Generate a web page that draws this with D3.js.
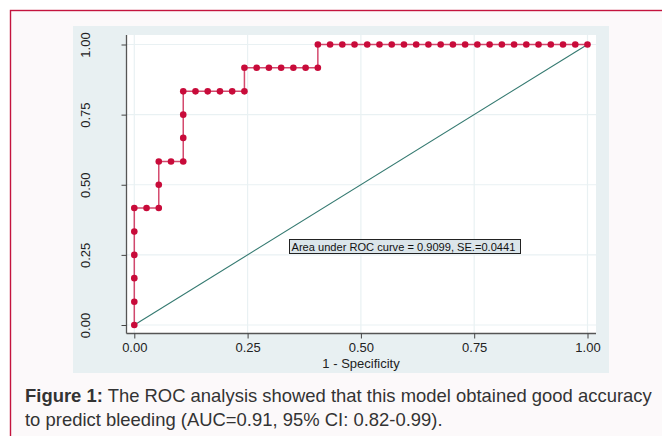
<!DOCTYPE html>
<html>
<head>
<meta charset="utf-8">
<script src="https://cdn.jsdelivr.net/npm/d3@7/dist/d3.min.js"></script>
<style>
body { margin: 0; background: #fff; }
svg { display: block; font-family: "Liberation Sans", Arial, sans-serif; }
</style>
</head>
<body>
<script>
// ROC points (1 - specificity, sensitivity)
const oneMinusSpec = [0, 0, 0, 0, 0, 0, 0.027, 0.054, 0.054, 0.054, 0.081, 0.108, 0.108, 0.108, 0.108,
  0.135, 0.162, 0.189, 0.216, 0.243, 0.243, 0.270, 0.297, 0.324, 0.351, 0.378, 0.405, 0.405,
  0.432, 0.459, 0.486, 0.514, 0.541, 0.568, 0.595, 0.622, 0.649, 0.676, 0.703, 0.730, 0.757,
  0.784, 0.811, 0.838, 0.865, 0.892, 0.919, 0.946, 0.973, 1];
const sensitivity = [0, 0.083, 0.167, 0.25, 0.333, 0.417, 0.417, 0.417, 0.5, 0.583, 0.583, 0.583, 0.667, 0.75, 0.833,
  0.833, 0.833, 0.833, 0.833, 0.833, 0.917, 0.917, 0.917, 0.917, 0.917, 0.917, 0.917, 1,
  1, 1, 1, 1, 1, 1, 1, 1, 1, 1, 1, 1, 1,
  1, 1, 1, 1, 1, 1, 1, 1, 1];
const refLine = [0, 1];
const tickValues = [0, 0.25, 0.5, 0.75, 1];
const tickLabels = ["0.00", "0.25", "0.50", "0.75", "1.00"];
const xTitle = "1 - Specificity";
const aucLabel = "Area under ROC curve = 0.9099, SE.=0.0441";
const captionBold = "Figure 1:";
const captionLines = [" The ROC analysis showed that this model obtained good accuracy",
  "to predict bleeding (AUC=0.91, 95% CI: 0.82-0.99)."];

const W = 662, H = 436;
const svg = d3.select("body").append("svg").attr("width", W).attr("height", H);

// page frame
svg.append("rect").attr("x", 10.5).attr("y", 10.5).attr("width", 700).attr("height", 500)
  .attr("fill", "#fcf9fa").attr("stroke", "#c4143e").attr("stroke-width", 1.4);

// stata graph region
svg.append("rect").attr("x", 73).attr("y", 26).attr("width", 536).attr("height", 347)
  .attr("fill", "#e8f0f2");

const plot = {left: 126.5, right: 596, top: 35, bottom: 333.5};
svg.append("rect").attr("x", plot.left).attr("y", plot.top)
  .attr("width", plot.right - plot.left).attr("height", plot.bottom - plot.top).attr("fill", "#fff");

const x = d3.scaleLinear().domain([0, 1]).range([134.3, 587.5]);
const y = d3.scaleLinear().domain([0, 1]).range([325, 44.5]);

// grid
const grid = svg.append("g").attr("stroke", "#e9f1f3").attr("stroke-width", 1.2);
grid.selectAll(".gx").data(tickValues).enter().append("line")
  .attr("x1", d => x(d)).attr("x2", d => x(d)).attr("y1", plot.top).attr("y2", plot.bottom);
grid.selectAll(".gy").data(tickValues).enter().append("line")
  .attr("y1", d => y(d)).attr("y2", d => y(d)).attr("x1", plot.left).attr("x2", plot.right);

// axes
const xAxis = d3.axisBottom(x).tickValues(tickValues).tickSize(5)
  .tickFormat((d, i) => tickLabels[i]);
const yAxis = d3.axisLeft(y).tickValues(tickValues).tickSize(5)
  .tickFormat((d, i) => tickLabels[i]);

const gx = svg.append("g").attr("transform", "translate(0," + plot.bottom + ")").call(xAxis);
gx.select(".domain").attr("d", "M" + plot.left + ",0H" + plot.right);
const gy = svg.append("g").attr("transform", "translate(" + plot.left + ",0)").call(yAxis);
gy.select(".domain").attr("d", "M0," + plot.top + "V" + plot.bottom);

[gx, gy].forEach(g => {
  g.selectAll(".domain").attr("stroke", "#555").attr("stroke-width", 1.3);
  g.selectAll(".tick line").attr("stroke", "#444").attr("stroke-width", 1);
  g.selectAll(".tick text").attr("fill", "#222").style("font-size", "13px")
    .style("font-family", "'Liberation Sans', Arial, sans-serif");
});
gx.selectAll(".tick text").attr("y", 9.5);
gy.selectAll(".tick text").attr("x", null).attr("dy", null).attr("text-anchor", "middle")
  .attr("transform", "translate(-37,0) rotate(-90)");

svg.append("text").attr("x", 361).attr("y", 367.5).attr("text-anchor", "middle")
  .style("font-size", "13px").attr("fill", "#222").text(xTitle);

// reference line
svg.append("line").attr("x1", x(refLine[0])).attr("y1", y(refLine[0]))
  .attr("x2", x(refLine[1])).attr("y2", y(refLine[1]))
  .attr("stroke", "#357a71").attr("stroke-width", 1.1);

// ROC curve
const pts = oneMinusSpec.map((v, i) => [v, sensitivity[i]]);
svg.append("path").datum(pts)
  .attr("d", d3.line().x(d => x(d[0])).y(d => y(d[1])))
  .attr("fill", "none").attr("stroke", "#cc2a55").attr("stroke-width", 1.5).attr("opacity", 0.85);
svg.selectAll(".dot").data(pts).enter().append("circle")
  .attr("class", "dot")
  .attr("cx", d => x(d[0])).attr("cy", d => y(d[1])).attr("r", 3.3)
  .attr("fill", "#c80b3a");

// AUC box
svg.append("rect").attr("x", 289.5).attr("y", 239.5).attr("width", 231).attr("height", 14)
  .attr("fill", "#dbe5ea").attr("stroke", "#222").attr("stroke-width", 1);
svg.append("text").attr("x", 291.5).attr("y", 250.5).style("font-size", "11.1px")
  .attr("fill", "#111").text(aucLabel);

// caption
const cap = svg.append("g").attr("fill", "#333").style("font-size", "17.5px");
const l1 = cap.append("text").attr("x", 0).attr("y", 0);
l1.append("tspan").style("font-weight", "bold").text(captionBold);
l1.append("tspan").text(captionLines[0]);
cap.append("text").attr("x", 0).attr("y", 24).text(captionLines[1]);
const w1 = l1.node().getComputedTextLength();
const sx = 627 / w1;
cap.attr("transform", "translate(25,402) scale(" + sx + ",1)");
</script>
</body>
</html>
